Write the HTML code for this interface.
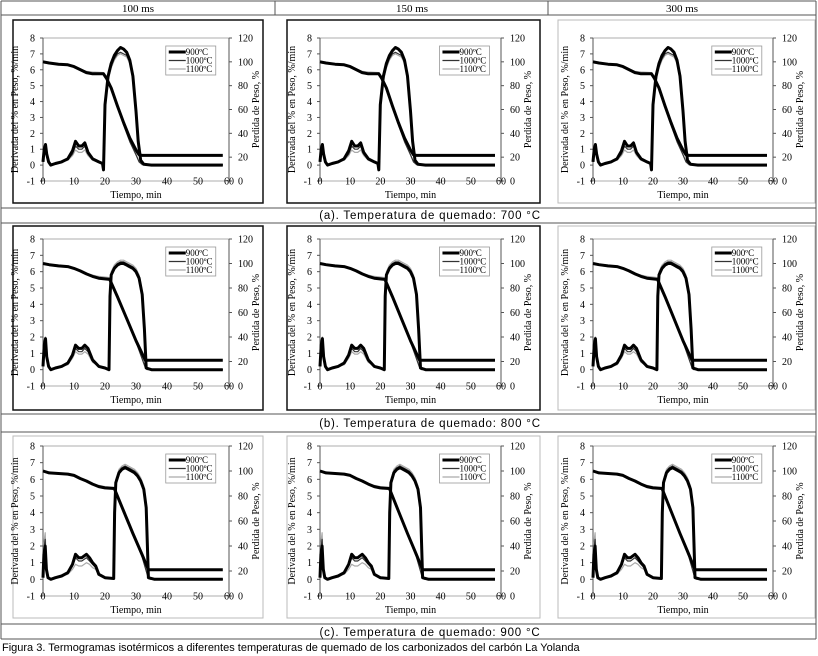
<!DOCTYPE html>
<html><head><meta charset="utf-8">
<style>
html,body{margin:0;padding:0;background:#fff;}
svg{display:block;}
</style></head>
<body>
<svg id="fig" width="818" height="656" viewBox="0 0 818 656" xmlns="http://www.w3.org/2000/svg"></svg>
<script>
// ---- data: row A (700 C) ----
const tA = [0,0.4,0.8,1.2,1.8,2.5,4,6,8,9.5,10.5,11.5,12.5,13.5,14.5,16,18,19.2,19.5,20,21,22,23,24,25,26,27,28,29,30,30.7,31.5,32.5,35,45,58];
const dA900 = [0.2,1.0,1.3,0.7,0.2,0.0,0.1,0.2,0.4,0.9,1.5,1.2,1.2,1.4,0.8,0.4,0.2,0.1,-0.3,3.8,5.6,6.4,6.9,7.2,7.4,7.3,7.1,6.6,5.6,3.4,1.5,0.3,0.05,0,0,0];
const dA1000 = [0.2,1.0,1.3,0.7,0.2,0,0.1,0.2,0.35,0.7,1.2,1.0,1.0,1.2,0.7,0.35,0.2,0.1,-0.2,3.6,5.4,6.2,6.7,7.0,7.1,7.0,6.9,6.5,5.5,3.4,1.5,0.3,0.05,0,0,0];
const dA1100 = [0.2,0.9,1.2,0.6,0.2,0,0.1,0.2,0.3,0.6,0.95,0.8,0.8,0.95,0.6,0.3,0.15,0.1,-0.2,3.5,5.3,6.1,6.6,6.9,7.0,6.9,6.8,6.4,5.4,3.3,1.4,0.3,0.05,0,0,0];
const wtA = [0,2,5,8,10,12,14,16,19.5,20.5,22,24,26,28,30,31,32,58];
const wA900 = [100,99,98,97.5,96,93.5,91,90,90,86,78,63,49,36,26,22,21.5,21.5];
const wA1000 = [100,99,98,97,95.5,93,91,90.5,90,86,77,62,47,33,22,16,14,14];
const wA1100 = [99,98.5,97.5,97,96,94,92,91.5,91,87,78,63,48,34,22,16,13.5,13.5];
// ---- data: row B (800 C) ----
const tB = [0,0.4,0.8,1.2,1.8,2.5,4,6,8,9.5,10.5,11.5,12.5,13.5,14.5,16,18,20,21.3,21.6,22,23,24,25,26,27,28,29,30,31,32,32.7,33.3,35,45,58];
const dB900 = [0.2,1.5,1.9,0.8,0.2,0.0,0.1,0.2,0.4,0.9,1.5,1.3,1.3,1.5,1.3,0.6,0.2,0.1,0.0,4.5,5.8,6.2,6.4,6.5,6.5,6.4,6.3,6.2,6.0,5.6,4.6,2.5,0.1,0,0,0];
const dB1000 = [0.2,1.4,1.8,0.8,0.2,0,0.1,0.2,0.35,0.8,1.3,1.1,1.1,1.3,1.1,0.5,0.2,0.1,0,4.5,5.9,6.3,6.5,6.6,6.6,6.5,6.4,6.3,6.1,5.7,4.7,2.5,0.1,0,0,0];
const dB1100 = [0.2,1.6,2.0,0.8,0.2,0,0.1,0.2,0.3,0.7,1.1,0.95,0.95,1.1,0.95,0.45,0.2,0.1,0,4.6,6.0,6.4,6.6,6.7,6.7,6.6,6.5,6.4,6.2,5.8,4.8,2.6,0.1,0,0,0];
const wtB = [0,2,5,8,10,12,14,16,18,21.5,24,27,30,33,33.5,58];
const wB900 = [100,99,98,97.5,96,94,91.5,89.5,88,87,73,55,37,21,21,21];
const wB1000 = [100,99,98,97.5,96,94,91.5,89.5,88.5,87.5,73,55,36,15,13.5,13.5];
const wB1100 = [99.5,98.5,97.5,97,96,94,92,90.5,89.5,88.5,74,56,37,15,13.5,13.5];
// ---- data: row C (900 C) ----
const tC = [0,0.3,0.7,1.1,1.6,2.5,4,6,8,9.5,10.5,11.5,12.5,14,15,16,17,18,20,22.8,23.1,23.5,24.5,25.5,26.5,27.5,28.5,29.5,30.5,31.5,32.5,33.3,34,36,45,58];
const dC900 = [0.1,1.5,2.0,0.6,0.1,0.0,0.1,0.2,0.4,0.9,1.5,1.3,1.3,1.5,1.3,1.0,0.8,0.3,0.1,0.05,4.0,5.8,6.4,6.6,6.7,6.6,6.5,6.4,6.2,5.9,5.4,4.3,0.1,0,0,0];
const dC1000 = [0.1,1.8,2.4,0.7,0.1,0,0.1,0.2,0.35,0.8,1.3,1.1,1.1,1.3,1.1,0.9,0.7,0.3,0.1,0.05,4.0,5.9,6.5,6.7,6.8,6.7,6.6,6.5,6.3,6.0,5.5,4.4,0.1,0,0,0];
const dC1100 = [0.1,2.2,2.8,0.8,0.1,0,0.1,0.2,0.3,0.6,0.9,0.8,0.8,1.0,0.9,0.7,0.6,0.25,0.1,0.05,4.1,6.0,6.6,6.8,6.9,6.8,6.7,6.6,6.4,6.1,5.6,4.5,0.1,0,0,0];
const wtC = [0,2,5,8,10,12,14,16,18,20,23,26,29,32,34,34.5,58];
const wC900 = [100,98.5,98,97.5,96.5,94,92,89.5,87.5,86.5,86,68,50,33,21,21,21];
const wC1000 = [100,98.5,98,97.5,96.5,94,92,89.5,87.5,86.5,86,67,49,31,14,13.5,13.5];
const wC1100 = [99.5,98.5,97.5,97,96,94,92,90,88.5,87.5,87,68,50,32,14,13.5,13.5];
// ---- tick labels / text ----
const xTicks = [0,10,20,30,40,50,60];
const yLeftTicks = [-1,0,1,2,3,4,5,6,7,8];
const yRightTicks = [0,20,40,60,80,100,120];
const legendLabels = ["900ºC","1000ºC","1100ºC"];
const colHeaders = ["100 ms","150 ms","300 ms"];
const rowCaptions = ["(a).  Temperatura de quemado: 700 °C","(b).  Temperatura de quemado: 800 °C","(c).  Temperatura de quemado: 900 °C"];

const NS = "http://www.w3.org/2000/svg";
const svg = document.getElementById('fig');
function mk(tag, attrs, parent){
  const e = document.createElementNS(NS, tag);
  for (const k in attrs) e.setAttribute(k, attrs[k]);
  (parent||svg).appendChild(e);
  return e;
}
const hLines = [1,15,208,223,414,432,624,639];
hLines.forEach(y=>{
  const l = mk('line',{x1:1,x2:816,y1:y,y2:y,stroke:'#555','stroke-width':1});
  
  
});
[1,816].forEach(x=>{
  const l = mk('line',{x1:x,x2:x,y1:1,y2:639,stroke:'#555','stroke-width':1});
  
  
});
[275,548].forEach(x=>{
  const l = mk('line',{x1:x,x2:x,y1:1,y2:15,stroke:'#555','stroke-width':1});
  
  
});
const hx=[138,412,682];
colHeaders.forEach((h,i)=>{
  const t = mk('text',{x:hx[i],y:12,'text-anchor':'middle','font-family':'Liberation Serif, serif','font-size':11,fill:'#000'});
  t.textContent=h;
  
  
});
const capY=[219,427,636];
rowCaptions.forEach((c,i)=>{
  const t = mk('text',{x:430,y:capY[i],'text-anchor':'middle','font-family':'Liberation Sans, sans-serif','font-size':11.5,'letter-spacing':'0.8',fill:'#000'});
  t.textContent=c;
  
  
});
const fc = mk('text',{x:2,y:651,'font-family':'Liberation Sans, sans-serif','font-size':11,fill:'#000'});
fc.textContent = "Figura 3.  Termogramas isotérmicos a diferentes temperaturas de quemado de los carbonizados del carbón La Yolanda";



const rows = [
  {t:tA,d:[dA900,dA1000,dA1100],wt:wtA,w:[wA900,wA1000,wA1100],top:38,bot:181,boxT:20,boxB:203},
  {t:tB,d:[dB900,dB1000,dB1100],wt:wtB,w:[wB900,wB1000,wB1100],top:239,bot:386,boxT:226,boxB:410},
  {t:tC,d:[dC900,dC1000,dC1100],wt:wtC,w:[wC900,wC1000,wC1100],top:446,bot:596,boxT:436,boxB:618}
];
const cols = [
  {l:43,r:229,bl:13,br:263},
  {l:320,r:501,bl:287,br:540},
  {l:593,r:773,bl:558,br:815}
];
const styles = [
  {c:'#000',w:3},
  {c:'#333',w:1.2},
  {c:'#aaa',w:1.2}
];

rows.forEach((R,ri)=>{
  cols.forEach((C,ci)=>{
    const g = mk('g',{});
    
    
    const dark = (ri<2 && ci<2);
    const box = mk('rect',{x:C.bl,y:R.boxT,width:C.br-C.bl,height:R.boxB-R.boxT,fill:'#fff',stroke:dark?'#111':'#bbb','stroke-width':dark?1.5:1},g);
    
    
    const xs = v=> C.l + (v-0)/60*(C.r-C.l);
    const ys = v=> R.bot - (v+1)/9*(R.bot-R.top);
    const yr = v=> R.bot - v/120*(R.bot-R.top);
    const pa = mk('rect',{x:C.l,y:R.top,width:C.r-C.l,height:R.bot-R.top,fill:'none',stroke:'#999','stroke-width':0.8},g);
    
    
    const axL = mk('line',{x1:C.l,x2:C.l,y1:R.top,y2:R.bot,stroke:'#555'},g);
    
    
    const axR = mk('line',{x1:C.r,x2:C.r,y1:R.top,y2:R.bot,stroke:'#555'},g);
    
    
    const ff='Liberation Serif, serif';
    yLeftTicks.forEach(v=>{
      const tk = mk('line',{x1:C.l-3,x2:C.l,y1:ys(v),y2:ys(v),stroke:'#555'},g);
      
      
      const t = mk('text',{x:C.l-8,y:ys(v)+3.5,'text-anchor':'end','font-family':ff,'font-size':10,fill:'#000'},g);
      t.textContent=v;
      
      
    });
    yRightTicks.forEach(v=>{
      const tk = mk('line',{x1:C.r,x2:C.r+3,y1:yr(v),y2:yr(v),stroke:'#555'},g);
      
      
      const t = mk('text',{x:C.r+9,y:yr(v)+3.5,'font-family':ff,'font-size':10,fill:'#000'},g);
      t.textContent=v;
      
      
    });
    xTicks.forEach(v=>{
      const t = mk('text',{x:xs(v),y:R.bot+3.5,'text-anchor':'middle','font-family':ff,'font-size':10,fill:'#000'},g);
      t.textContent=v;
      
      
    });
    const xt = mk('text',{x:(C.l+C.r)/2,y:R.bot+17,'text-anchor':'middle','font-family':ff,'font-size':10,fill:'#000'},g);
    xt.textContent='Tiempo, min';
    
    
    const cy=(R.top+R.bot)/2;
    const yl = mk('text',{x:C.l-25,y:cy,'text-anchor':'middle','font-family':ff,'font-size':10,fill:'#000',transform:`rotate(-90 ${C.l-25} ${cy})`},g);
    yl.textContent='Derivada del % en Peso, %/min';
    
    
    const yrT = mk('text',{x:C.r+30,y:cy,'text-anchor':'middle','font-family':ff,'font-size':10,fill:'#000',transform:`rotate(-90 ${C.r+30} ${cy})`},g);
    yrT.textContent='Perdida de Peso, %';
    
    
    [2,1,0].forEach(si=>{
      const st=styles[si];
      const dp = R.t.map((tv,i)=>`${i?'L':'M'}${xs(tv).toFixed(1)},${ys(R.d[si][i]).toFixed(1)}`).join('');
      const p1 = mk('path',{d:dp,fill:'none',stroke:st.c,'stroke-width':st.w,'stroke-linejoin':'round'},g);
      
      
      const wp = R.wt.map((tv,i)=>`${i?'L':'M'}${xs(tv).toFixed(1)},${yr(R.w[si][i]).toFixed(1)}`).join('');
      const p2 = mk('path',{d:wp,fill:'none',stroke:st.c,'stroke-width':st.w,'stroke-linejoin':'round'},g);
      
      
    });
    const lx=C.l+(C.r-C.l)*0.66, ly=R.top+8;
    const lg = mk('rect',{x:lx,y:ly,width:50,height:29,fill:'#fff',stroke:'#999','stroke-width':0.8},g);
    
    
    legendLabels.forEach((lab,i)=>{
      const yy=ly+6+i*8.5;
      const ln = mk('line',{x1:lx+3,x2:lx+20,y1:yy,y2:yy,stroke:styles[i].c,'stroke-width':styles[i].w},g);
      
      
      const t = mk('text',{x:lx+20,y:yy+3,'font-family':ff,'font-size':9,fill:'#000'},g);
      t.textContent=lab;
      
      
    });
  });
});
</script>
</body></html>
